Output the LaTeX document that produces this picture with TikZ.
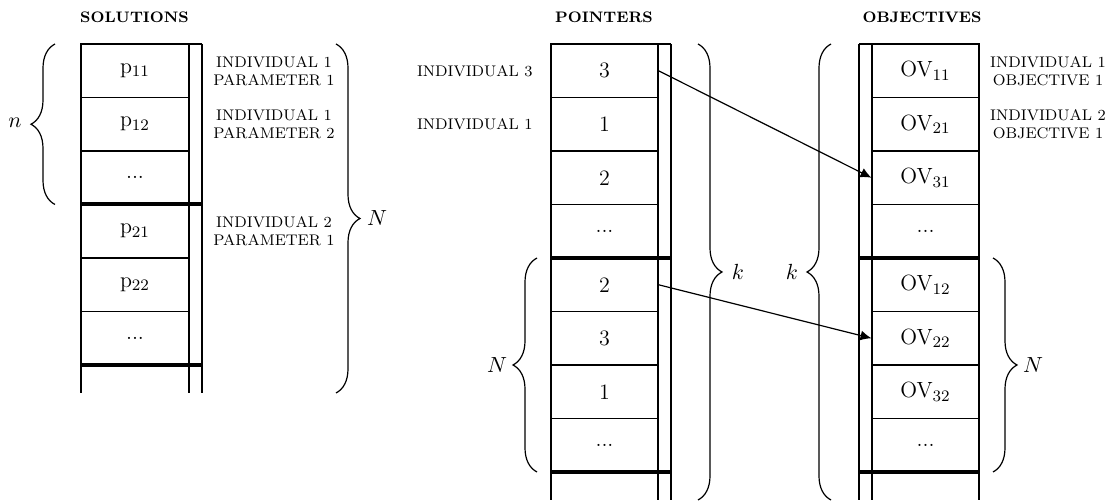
\documentclass[tikz,border=0pt]{standalone}
\usetikzlibrary{decorations.pathreplacing,arrows.meta}
\begin{document}
\begin{tikzpicture}[x=0.5pt,y=-0.5pt,
  cell/.style={draw,line width=0.6pt,minimum width=54pt,minimum height=26.75pt,inner sep=0pt,outer sep=0pt,font=\fontsize{11}{13}\selectfont},
  col/.style={line width=0.6pt},
  sepline/.style={line width=2pt},
  brc/.style={decorate,decoration={brace,amplitude=12pt},line width=0.6pt},
  ttl/.style={font=\fontsize{7.6}{9}\selectfont\bfseries,inner sep=0pt},
  lbl/.style={font=\fontsize{7.7}{9.2}\selectfont,align=center,inner sep=0pt},
  mth/.style={font=\fontsize{11}{13}\selectfont,inner sep=0pt},
  arr/.style={-{Latex[length=5.5pt,width=5pt]},line width=0.6pt}
]
\useasboundingbox (0,0) rectangle (1120,501);

% ---------- SOLUTIONS ----------
\node[ttl] (tsol) at (134.5,17) {SOLUTIONS};
\node[cell] (s0) at (135,70.75) {p$_{11}$};
\node[cell] (s1) at (135,124.25) {p$_{12}$};
\node[cell] (s2) at (135,177.75) {...};
\node[cell] (s3) at (135,231.25) {p$_{21}$};
\node[cell] (s4) at (135,284.75) {p$_{22}$};
\node[cell] (s5) at (135,338.25) {...};
\draw[col] (81,44) -- (202,44);
\draw[col] (81,44) -- (81,393);
\draw[col] (189,44) -- (189,393);
\draw[col] (202,44) -- (202,393);
\draw[sepline] (81,204.5) -- (202,204.5);
\draw[sepline] (81,365) -- (202,365);

\coordinate (bn1) at (55,204.5);
\coordinate (bn2) at (55,44);
\draw[brc] (bn1) -- (bn2);
\node[mth] (ln) at (15,123) {$n$};
\coordinate (bN1) at (336,44);
\coordinate (bN2) at (336,393);
\draw[brc] (bN1) -- (bN2);
\node[mth] (lN1) at (377,218) {$N$};

\node[lbl] (ls0) at (274,71) {INDIVIDUAL 1\\PARAMETER 1};
\node[lbl] (ls1) at (274,124) {INDIVIDUAL 1\\PARAMETER 2};
\node[lbl] (ls3) at (274,231) {INDIVIDUAL 2\\PARAMETER 1};

% ---------- POINTERS ----------
\node[ttl] (tptr) at (604,17) {POINTERS};
\node[cell] (p0) at (604.5,70.75) {3};
\node[cell] (p1) at (604.5,124.25) {1};
\node[cell] (p2) at (604.5,177.75) {2};
\node[cell] (p3) at (604.5,231.25) {...};
\node[cell] (p4) at (604.5,284.75) {2};
\node[cell] (p5) at (604.5,338.25) {3};
\node[cell] (p6) at (604.5,391.75) {1};
\node[cell] (p7) at (604.5,445.25) {...};
\draw[col] (551,44) -- (671,44);
\draw[col] (551,44) -- (551,500);
\draw[col] (658,44) -- (658,500);
\draw[col] (671,44) -- (671,500);
\draw[sepline] (551,258) -- (671,258);
\draw[sepline] (551,472) -- (671,472);

\coordinate (bpN1) at (537,472);
\coordinate (bpN2) at (537,258);
\draw[brc] (bpN1) -- (bpN2);
\node[mth] (lN2) at (497,365) {$N$};
\coordinate (bpk1) at (698,44);
\coordinate (bpk2) at (698,500);
\draw[brc] (bpk1) -- (bpk2);
\node[mth] (lk1) at (738,272) {$k$};

\node[lbl,anchor=east] (lp0) at (533,71) {INDIVIDUAL 3};
\node[lbl,anchor=east] (lp1) at (533,124) {INDIVIDUAL 1};

% ---------- OBJECTIVES ----------
\node[ttl] (tobj) at (922,17) {OBJECTIVES};
\node[cell] (o0) at (925.5,70.75) {OV$_{11}$};
\node[cell] (o1) at (925.5,124.25) {OV$_{21}$};
\node[cell] (o2) at (925.5,177.75) {OV$_{31}$};
\node[cell] (o3) at (925.5,231.25) {...};
\node[cell] (o4) at (925.5,284.75) {OV$_{12}$};
\node[cell] (o5) at (925.5,338.25) {OV$_{22}$};
\node[cell] (o6) at (925.5,391.75) {OV$_{32}$};
\node[cell] (o7) at (925.5,445.25) {...};
\draw[col] (859,44) -- (979,44);
\draw[col] (859,44) -- (859,500);
\draw[col] (872,44) -- (872,500);
\draw[col] (979,44) -- (979,500);
\draw[sepline] (859,258) -- (979,258);
\draw[sepline] (859,472) -- (979,472);

\coordinate (bok1) at (831,500);
\coordinate (bok2) at (831,44);
\draw[brc] (bok1) -- (bok2);
\node[mth] (lk2) at (792,272) {$k$};
\coordinate (boN1) at (993,258);
\coordinate (boN2) at (993,472);
\draw[brc] (boN1) -- (boN2);
\node[mth] (lN3) at (1033,365) {$N$};

\node[lbl] (lo0) at (1048,71) {INDIVIDUAL 1\\OBJECTIVE 1};
\node[lbl] (lo1) at (1048,124) {INDIVIDUAL 2\\OBJECTIVE 1};

% ---------- ARROWS ----------
\draw[arr] (p0.east) -- (o2.west);
\draw[arr] (p4.east) -- (o5.west);
\end{tikzpicture}
\end{document}
